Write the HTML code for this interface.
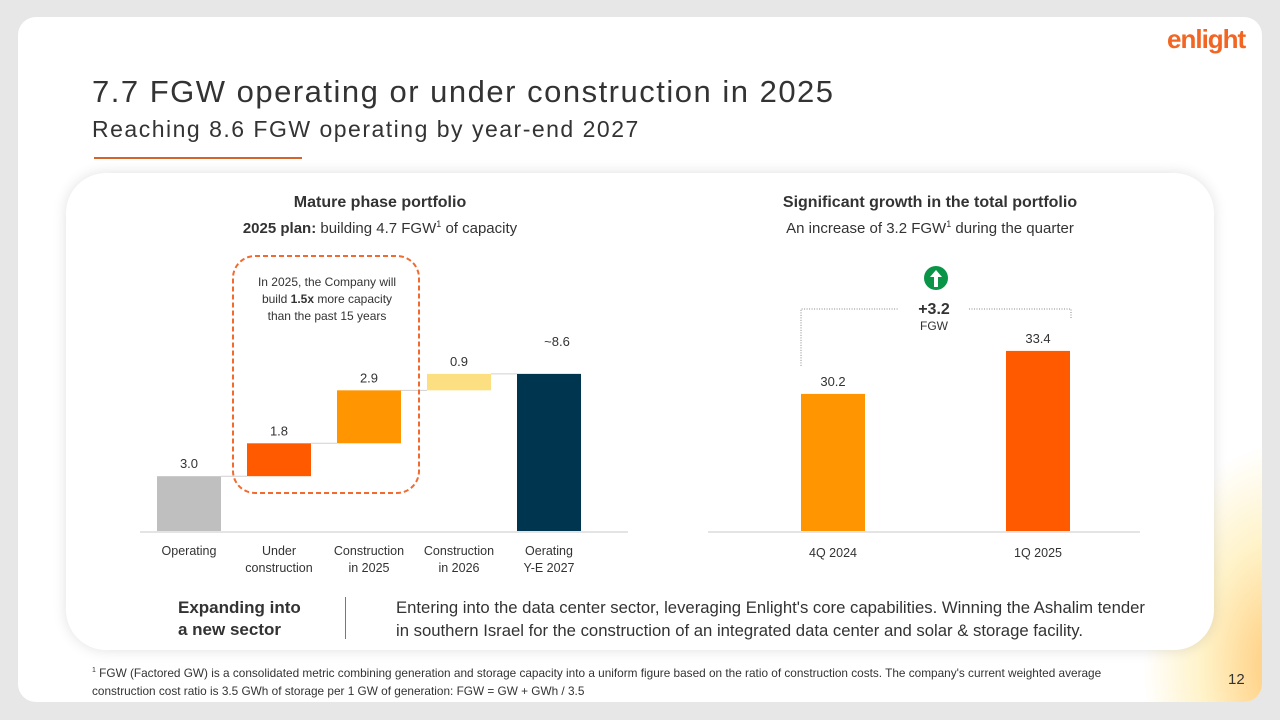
<!DOCTYPE html>
<html><head><meta charset="utf-8"><style>
body{margin:0;width:1280px;height:720px;background:#e7e7e7;font-family:"Liberation Sans",sans-serif;position:relative;overflow:hidden;color:#333}
.abs{position:absolute}
#slide{left:18px;top:17px;width:1244px;height:685px;background:#fff;border-radius:18px;overflow:hidden}
#glow{right:-40px;bottom:-40px;width:160px;height:300px;background:radial-gradient(ellipse at 85% 75%,rgba(255,175,50,.65),rgba(255,220,100,.35) 40%,rgba(255,255,255,0) 70%)}
#card{left:66px;top:173px;width:1148px;height:477px;background:#fff;border-radius:40px;box-shadow:0 0 14px rgba(0,0,0,.12)}
.t{white-space:nowrap}
</style></head><body>
<div id="slide" class="abs">
<div id="glow" class="abs"></div>
</div>
<div class="abs t" style="left:1167px;top:24px;font-size:26px;font-weight:bold;color:#f26522;letter-spacing:-1px">enlight</div>
<div class="abs t" style="left:92px;top:74px;font-size:31px;letter-spacing:1.5px;color:#333">7.7 FGW operating or under construction in 2025</div>
<div class="abs t" style="left:92px;top:116px;font-size:23px;letter-spacing:1.5px;color:#333">Reaching 8.6 FGW operating by year-end 2027</div>
<div class="abs" style="left:94px;top:157px;width:208px;height:2px;background:#d5642a"></div>
<div id="card" class="abs"></div>
<div class="abs t" style="left:190px;top:194px;width:380px;text-align:center;font-size:16px;font-weight:bold">Mature phase portfolio</div>
<div class="abs t" style="left:190px;top:220px;width:380px;text-align:center;font-size:15px"><b>2025 plan:</b> building 4.7 FGW<sup style="font-size:9px;line-height:0">1</sup> of capacity</div>
<div class="abs t" style="left:700px;top:194px;width:460px;text-align:center;font-size:16px;font-weight:bold">Significant growth in the total portfolio</div>
<div class="abs t" style="left:700px;top:220px;width:460px;text-align:center;font-size:15px">An increase of 3.2 FGW<sup style="font-size:9px;line-height:0">1</sup> during the quarter</div>
<svg class="abs" style="left:0;top:0" width="1280" height="720" id="charts"></svg>
<div class="abs t" style="left:178px;top:597px;font-size:17px;font-weight:bold;line-height:22px;color:#333">Expanding into<br>a new sector</div>
<div class="abs" style="left:345px;top:597px;width:1px;height:42px;background:#c0603a"></div>
<div class="abs t" style="left:396px;top:596px;font-size:16.7px;line-height:23px;color:#333">Entering into the data center sector, leveraging Enlight's core capabilities. Winning the Ashalim tender<br>in southern Israel for the construction of an integrated data center and solar &amp; storage facility.</div>
<div class="abs t" style="left:92px;top:664px;font-size:11.8px;line-height:18px;color:#333"><sup style="font-size:7px;line-height:0">1</sup> FGW (Factored GW) is a consolidated metric combining generation and storage capacity into a uniform figure based on the ratio of construction costs. The company's current weighted average<br>construction cost ratio is 3.5 GWh of storage per 1 GW of generation: FGW = GW + GWh / 3.5</div>
<div class="abs t" style="left:1228px;top:671px;font-size:15px;color:#333">12</div>
<script>
const wfCategories=[["Operating"],["Under","construction"],["Construction","in 2025"],["Construction","in 2026"],["Oerating","Y-E 2027"]];
const wfValues=[3.0,1.8,2.9,0.9,8.6];
const wfLabels=["3.0","1.8","2.9","0.9","~8.6"];
const wfColors=["#bfbfbf","#ff5a00","#ff9500","#fbdf80","#003550"];
const qCategories=["4Q 2024","1Q 2025"];
const qValues=[30.2,33.4];
const qColors=["#ff9500","#ff5a00"];
const NS="http://www.w3.org/2000/svg";
const svg=document.getElementById('charts');
function mk(tag,a,txt){const e=document.createElementNS(NS,tag);for(const k in a)e.setAttribute(k,a[k]);if(txt!=null)e.textContent=txt;svg.appendChild(e);return e;}
const base=531;
const wy=v=>base-v*18.27;
const wx=i=>157+i*90;
const bw=64;
let ax=mk('rect',{x:140,y:base,width:488,height:2,fill:'#e4e4e4'});

let cum=0;
wfValues.forEach((v,i)=>{
 let y0,y1;
 if(i===wfValues.length-1||i===0){y0=0;y1=v;}else{y0=cum;y1=cum+v;}
 if(i<wfValues.length-1)cum=(i===0?v:cum+v);
 const r=mk('rect',{x:wx(i),y:wy(y1),width:bw,height:wy(y0)-wy(y1),fill:wfColors[i]});
 
 if(i<wfValues.length-1){
  const c=mk('line',{x1:wx(i)+bw,x2:wx(i+1),y1:wy(cum),y2:wy(cum),stroke:'#d0d0d0','stroke-width':1});
  
 }
 const lx=wx(i)+bw/2+(i===4?8:0), ly=wy(y1)-8-(i===4?20:0);
 const t=mk('text',{x:lx,y:ly,'text-anchor':'middle','font-size':13,fill:'#333'},wfLabels[i]);
 
 wfCategories[i].forEach((s,j)=>{const c=mk('text',{x:wx(i)+bw/2,y:555+j*17,'text-anchor':'middle','font-size':12.5,fill:'#333'},s);
  });
});
let box=mk('rect',{x:233,y:256,width:186,height:237,rx:22,fill:'none',stroke:'#f26a2e','stroke-width':2,'stroke-dasharray':'5,3'});

[["In 2025, the Company will",0],["build ",1],["than the past 15 years",2]].forEach(([s,j])=>{
 const t=mk('text',{x:327,y:286+j*17,'text-anchor':'middle','font-size':12,fill:'#333'});
 if(j===1){t.innerHTML='build <tspan font-weight="bold">1.5x</tspan> more capacity';}else t.textContent=s;
 
});
const qy=v=>base-(v-20)*13.44;
const qx=i=>801+i*205;
ax=mk('rect',{x:708,y:base,width:432,height:2,fill:'#e4e4e4'});

qValues.forEach((v,i)=>{
 const r=mk('rect',{x:qx(i),y:qy(v),width:64,height:base-qy(v),fill:qColors[i]});
 
 const t=mk('text',{x:qx(i)+32,y:qy(v)-8,'text-anchor':'middle','font-size':13,fill:'#333'},v.toFixed(1));
 
 const c=mk('text',{x:qx(i)+32,y:557,'text-anchor':'middle','font-size':12.5,fill:'#333'},qCategories[i]);
 
});
let p=mk('polyline',{points:`${qx(0)},${qy(qValues[0])-28} ${qx(0)},309 898,309`,fill:'none',stroke:'#888','stroke-dasharray':'1,1.5'});

p=mk('polyline',{points:`969,309 1071,309 1071,318`,fill:'none',stroke:'#888','stroke-dasharray':'1,1.5'});

let ci=mk('circle',{cx:936,cy:278,r:12,fill:'#0a9447'});
let ar=mk('path',{d:'M936 270 L930 277 L934 277 L934 287 L938 287 L938 277 L942 277 Z',fill:'#fff'});
let dt=mk('text',{x:934,y:314,'text-anchor':'middle','font-size':16,'font-weight':'bold',fill:'#333'},'+'+(qValues[1]-qValues[0]).toFixed(1));

dt=mk('text',{x:934,y:330,'text-anchor':'middle','font-size':12,fill:'#333'},'FGW');

</script>
</body></html>
